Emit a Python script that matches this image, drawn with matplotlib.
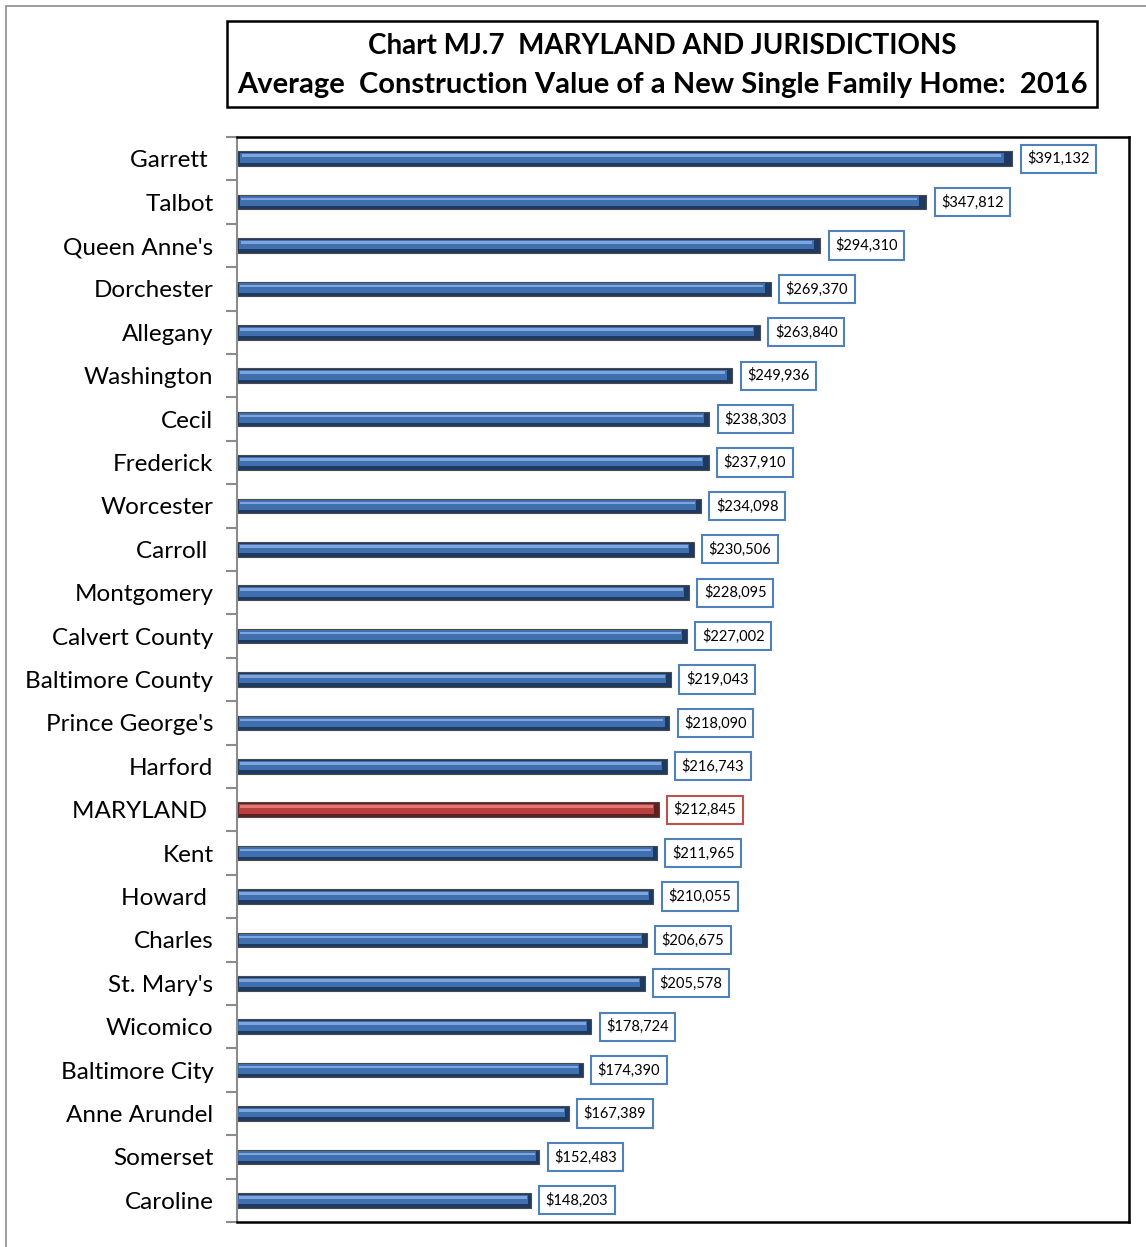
import matplotlib.pyplot as plt
from matplotlib.patches import Rectangle

# Datos (de arriba hacia abajo)
jurisdictions = [
    "Garrett ", "Talbot", "Queen Anne's", "Dorchester", "Allegany", "Washington",
    "Cecil", "Frederick", "Worcester", "Carroll ", "Montgomery", "Calvert County",
    "Baltimore County", "Prince George's", "Harford", "MARYLAND ", "Kent", "Howard ",
    "Charles", "St. Mary's", "Wicomico", "Baltimore City", "Anne Arundel",
    "Somerset", "Caroline",
]
values = [
    391132, 347812, 294310, 269370, 263840, 249936,
    238303, 237910, 234098, 230506, 228095, 227002,
    219043, 218090, 216743, 212845, 211965, 210055,
    206675, 205578, 178724, 174390, 167389,
    152483, 148203,
]
highlight = "MARYLAND "

plt.rcParams['font.family'] = ['Lato', 'DejaVu Sans']

fig = plt.figure(figsize=(11.46, 12.47), dpi=100)
W, H = 1146, 1247

# marco exterior gris
fig.patches.append(Rectangle((6 / W, -0.01), 1.2, 1 - 6 / H + 0.01,
                             transform=fig.transFigure, fill=False,
                             edgecolor='#8c8c8c', linewidth=1.2))

ax = fig.add_axes([237 / W, 1 - 1222 / H, (1129 - 237) / W, (1222 - 137) / H])

n = len(jurisdictions)
ypos = list(range(n))[::-1]

for y, name, v in zip(ypos, jurisdictions, values):
    if name == highlight:
        dark, mid, light, edge = '#5e2120', '#b8413e', '#e07a76', '#c0504d'
    else:
        dark, mid, light, edge = '#1f3a60', '#3f6fae', '#7ea6dc', '#4f81bd'
    ax.barh(y, v, height=0.34, color=dark, edgecolor='#4a4a4a', linewidth=0.8, zorder=2)
    ax.barh(y + 0.02, v * 0.985, left=v * 0.004, height=0.22, color=mid,
            linewidth=0, zorder=3)
    ax.barh(y + 0.07, v * 0.98, left=v * 0.006, height=0.06, color=light,
            linewidth=0, zorder=3)
    ax.text(v + 7500, y, f"${v:,.0f}", va='center', ha='left', fontsize=10.5,
            bbox=dict(boxstyle='square,pad=0.45', facecolor='white',
                      edgecolor=edge, linewidth=1.5), zorder=4)

ax.set_xlim(0, 450000)
ax.set_ylim(-0.5, n - 0.5)
ax.set_xticks([])

ax.set_yticks(ypos)
ax.set_yticklabels(jurisdictions, fontsize=17.5)
ax.tick_params(axis='y', length=0, pad=17)
ax.set_yticks([i - 0.5 for i in range(n + 1)], minor=True)
ax.tick_params(axis='y', which='minor', length=8, color='#8c8c8c', width=1.5)

for s in ['top', 'right', 'bottom']:
    ax.spines[s].set_color('black')
    ax.spines[s].set_linewidth(1.8)
ax.spines['left'].set_color('#8c8c8c')
ax.spines['left'].set_linewidth(1.5)

# título con recuadro
fig.patches.append(Rectangle((227 / W, 1 - 107 / H), (1097 - 227) / W, (107 - 21) / H,
                             transform=fig.transFigure, fill=False,
                             edgecolor='black', linewidth=1.8))
fig.text(662 / W, 1 - 46 / H, "Chart MJ.7  MARYLAND AND JURISDICTIONS",
         ha='center', va='center', fontsize=20, fontweight='bold')
fig.text(662 / W, 1 - 85 / H, "Average  Construction Value of a New Single Family Home:  2016",
         ha='center', va='center', fontsize=21, fontweight='bold')

fig.savefig("out.png", dpi=100)
